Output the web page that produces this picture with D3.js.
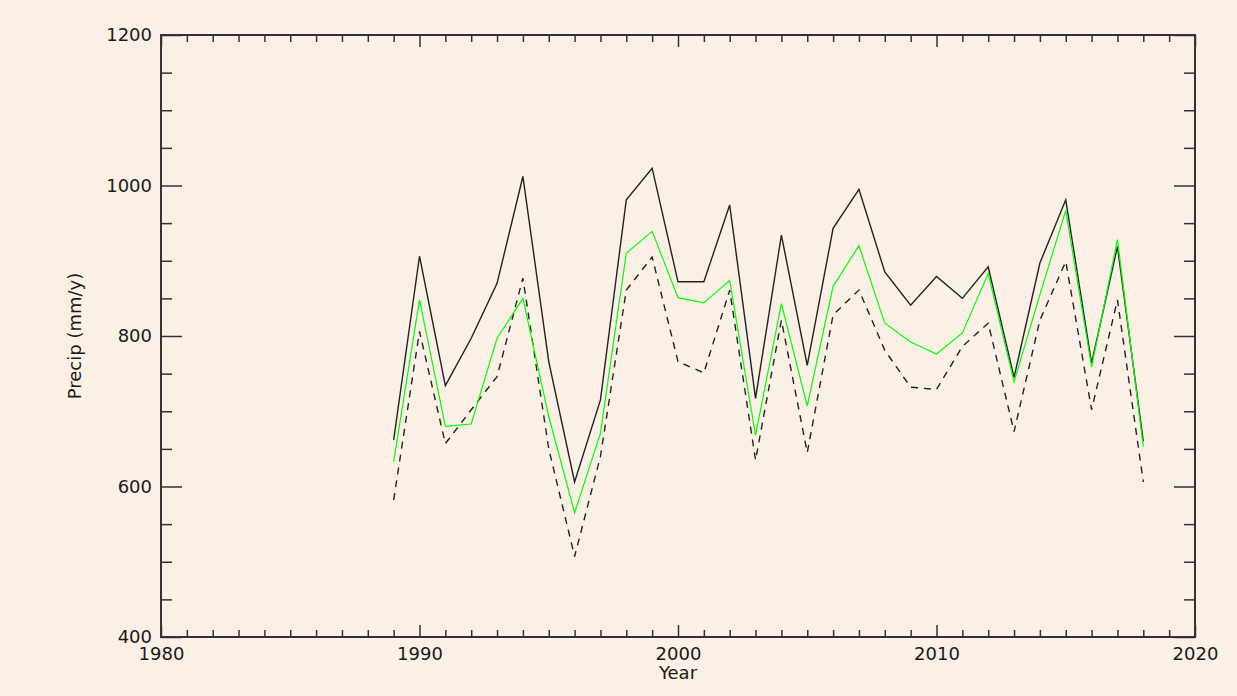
<!DOCTYPE html>
<html>
<head>
<meta charset="utf-8">
<script src="https://cdn.jsdelivr.net/npm/d3@7"></script>
<style>
  body { margin: 0; background: #faf0e6; }
  svg { display: block; }
  text { font-family: "DejaVu Sans", sans-serif; fill: #1a1a1a; }
</style>
</head>
<body>
<svg id="chart" width="1237" height="696"></svg>
<script>
// data
var years = [1989, 1990, 1991, 1992, 1993, 1994, 1995, 1996, 1997, 1998,
             1999, 2000, 2001, 2002, 2003, 2004, 2005, 2006, 2007, 2008,
             2009, 2010, 2011, 2012, 2013, 2014, 2015, 2016, 2017, 2018]

var precipHigh = [662, 906, 734, 797, 870, 1012, 766, 606, 715, 981,
                  1023, 872, 872, 974, 717, 934, 761, 943, 995, 885,
                  841, 879, 850, 892, 745, 897, 981, 764, 919, 660]

var precipMid = [633, 848, 680, 683, 797, 850, 693, 565, 671, 910,
                 939, 851, 844, 874, 668, 843, 707, 866, 920, 817,
                 792, 776, 804, 883, 739, 855, 967, 759, 928, 653]

var precipLow = [582, 806, 657, 702, 746, 877, 650, 507, 640, 861,
                 905, 766, 751, 861, 635, 821, 645, 828, 861, 781,
                 732, 729, 786, 817, 673, 821, 899, 702, 848, 606]

var xMajor = [1980, 1990, 2000, 2010, 2020]
var yMajor = [400, 600, 800, 1000, 1200]

var svg = d3.select('#chart')

var plotL = 161, plotR = 1195, plotT = 35, plotB = 637

var x = d3.scaleLinear().domain([1980, 2020]).range([plotL, plotR])
var y = d3.scaleLinear().domain([400, 1200]).range([plotB, plotT])

svg.append('rect')
    .attr('width', 1237).attr('height', 696)
    .attr('fill', '#faf0e6')

var axisColor = '#333'

function styleAxis(g) {
    g.select('.domain').remove()
    g.selectAll('.tick line').attr('stroke', axisColor).attr('stroke-width', 1.5)
    g.selectAll('text').style('font-size', '18px').attr('fill', '#1a1a1a')
        .style('font-family', '"DejaVu Sans", sans-serif')
}

// minor ticks (every year / every 50 mm)
var xMinor = d3.range(1981, 2020).filter(d => d % 10 != 0)
var yMinor = d3.range(450, 1200, 50).filter(d => d % 200 != 0)

svg.append('g').attr('transform', 'translate(0,' + plotB + ')')
    .call(d3.axisBottom(x).tickValues(xMinor).tickSize(-7).tickFormat(''))
    .call(styleAxis)
svg.append('g').attr('transform', 'translate(0,' + plotT + ')')
    .call(d3.axisTop(x).tickValues(xMinor).tickSize(-7).tickFormat(''))
    .call(styleAxis)
svg.append('g').attr('transform', 'translate(' + plotL + ',0)')
    .call(d3.axisLeft(y).tickValues(yMinor).tickSize(-11).tickFormat(''))
    .call(styleAxis)
svg.append('g').attr('transform', 'translate(' + plotR + ',0)')
    .call(d3.axisRight(y).tickValues(yMinor).tickSize(-11).tickFormat(''))
    .call(styleAxis)

// major ticks with labels
svg.append('g').attr('transform', 'translate(0,' + plotB + ')')
    .call(d3.axisBottom(x).tickValues(xMajor).tickSize(-12).tickPadding(10).tickFormat(d3.format('d')))
    .call(styleAxis)
svg.append('g').attr('transform', 'translate(0,' + plotT + ')')
    .call(d3.axisTop(x).tickValues(xMajor).tickSize(-12).tickFormat(''))
    .call(styleAxis)
svg.append('g').attr('transform', 'translate(' + plotL + ',0)')
    .call(d3.axisLeft(y).tickValues(yMajor).tickSize(-21).tickPadding(9).tickFormat(d3.format('d')))
    .call(styleAxis)
svg.append('g').attr('transform', 'translate(' + plotR + ',0)')
    .call(d3.axisRight(y).tickValues(yMajor).tickSize(-21).tickFormat(''))
    .call(styleAxis)

// frame
svg.append('rect')
    .attr('x', plotL).attr('y', plotT)
    .attr('width', plotR - plotL).attr('height', plotB - plotT)
    .attr('fill', 'none')
    .attr('stroke', axisColor)
    .attr('stroke-width', 2)

// axis titles
svg.append('text')
    .attr('x', (plotL + plotR) / 2).attr('y', 679)
    .attr('text-anchor', 'middle')
    .style('font-size', '18px')
    .text('Year')

svg.append('text')
    .attr('transform', 'translate(81,' + (plotT + plotB) / 2 + ') rotate(-90)')
    .attr('text-anchor', 'middle')
    .style('font-size', '18px')
    .text('Precip (mm/y)')

// series
var line = d3.line()
    .x((d, i) => x(years[i]))
    .y(d => y(d))

svg.append('path')
    .datum(precipHigh)
    .attr('d', line)
    .attr('fill', 'none')
    .attr('stroke', '#222')
    .attr('stroke-width', 1.4)

svg.append('path')
    .datum(precipLow)
    .attr('d', line)
    .attr('fill', 'none')
    .attr('stroke', '#222')
    .attr('stroke-width', 1.4)
    .attr('stroke-dasharray', '7,6')

svg.append('path')
    .datum(precipMid)
    .attr('d', line)
    .attr('fill', 'none')
    .attr('stroke', '#00ff00')
    .attr('stroke-width', 1.2)
</script>
</body>
</html>
